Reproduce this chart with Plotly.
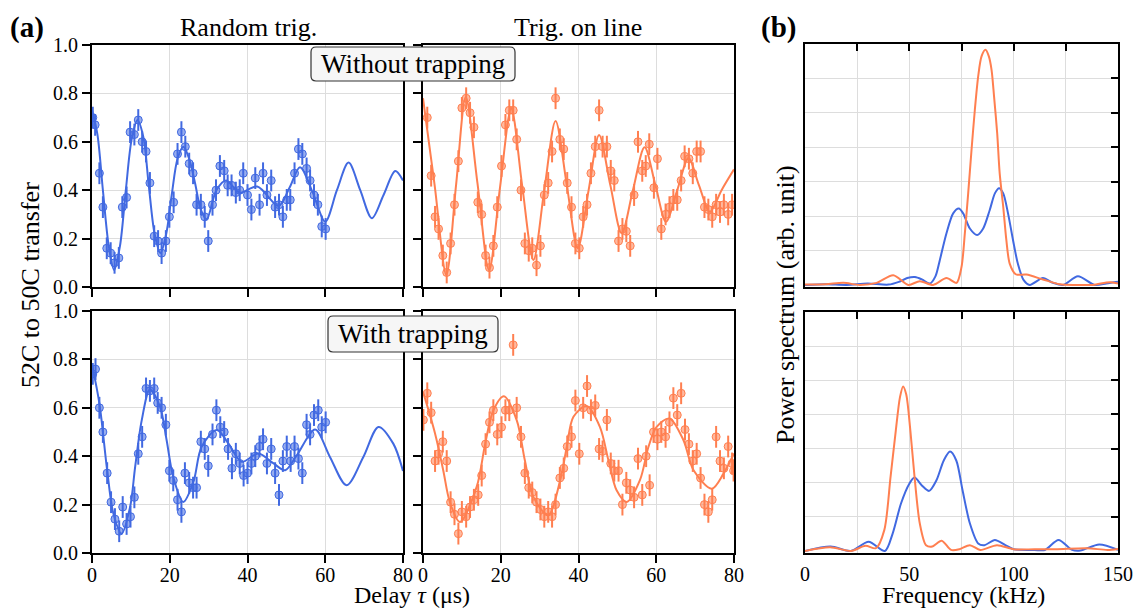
import plotly.graph_objects as go

# ---------------- data ----------------
# (a) top-left: random trigger, without trapping
t_rand_free = [0.2, 0.8, 1.9, 2.8, 3.8, 4.8, 5.8, 6.9, 7.8, 8.9, 9.8, 10.9, 11.9, 12.9, 13.9, 14.9, 16.0, 17.0, 17.9, 19.0,
               19.9, 21.0, 22.0, 23.0, 24.0, 25.0, 26.0, 26.9, 28.0, 29.0, 29.9, 31.0, 31.9, 32.9, 34.0, 34.9, 35.9, 37.0, 38.0, 38.9,
               40.0, 41.0, 42.0, 43.1, 44.0, 45.0, 46.1, 47.1, 48.1, 49.1, 50.1, 51.0, 52.1, 53.1, 54.1, 55.2, 56.1, 57.1, 58.1, 59.1, 60.1]
v_rand_free = [0.70, 0.67, 0.47, 0.33, 0.16, 0.14, 0.10, 0.12, 0.33, 0.37, 0.64, 0.63, 0.69, 0.60, 0.56, 0.43, 0.21, 0.19, 0.14, 0.19,
               0.29, 0.35, 0.55, 0.64, 0.58, 0.51, 0.47, 0.34, 0.34, 0.29, 0.19, 0.34, 0.40, 0.50, 0.48, 0.42, 0.42, 0.39, 0.40, 0.47,
               0.38, 0.32, 0.45, 0.34, 0.47, 0.38, 0.44, 0.33, 0.34, 0.29, 0.36, 0.36, 0.47, 0.57, 0.55, 0.49, 0.44, 0.38, 0.34, 0.25, 0.24]
fit_t_rand_free = [0, 1.4, 2.8, 4.3, 5.7, 7.2, 8.7, 10.2, 11.7, 13.2, 14.6, 16.1, 17.6, 19.1, 20.5, 22.0, 23.5, 25.0, 26.5, 28.0,
                   29.5, 32.0, 34.5, 38.0, 42.5, 48.0, 50.8, 53.5, 56.8, 60.0, 63.0, 66.0, 69.0, 72.0, 75.0, 78.0, 80.0]
fit_v_rand_free = [0.73, 0.63, 0.40, 0.17, 0.07, 0.17, 0.40, 0.61, 0.69, 0.62, 0.42, 0.22, 0.14, 0.22, 0.38, 0.53, 0.58, 0.53,
                   0.43, 0.32, 0.28, 0.40, 0.44, 0.39, 0.415, 0.335, 0.41, 0.495, 0.39, 0.27, 0.40, 0.514, 0.40, 0.284, 0.38,
                   0.479, 0.44]

# (a) top-right: trigger on line, without trapping
t_line_free = [1.1, 2.1, 3.1, 4.0, 5.1, 6.1, 7.1, 8.1, 9.1, 10.0, 11.1, 12.1, 13.1, 14.1, 15.1, 16.1, 17.1, 18.1, 19.1, 20.2,
               21.2, 22.2, 23.2, 24.1, 25.2, 26.2, 27.2, 28.1, 29.2, 30.2, 31.2, 32.2, 33.2, 34.1, 35.2, 36.2, 37.1, 38.2, 39.2, 40.2,
               41.2, 42.2, 43.2, 44.3, 45.3, 46.2, 47.3, 48.3, 49.2, 50.3, 51.3, 52.3, 53.3, 54.3, 55.3, 56.4, 57.3, 58.2, 59.4, 60.3,
               61.3, 62.4, 63.4, 64.4, 65.4, 66.4, 67.3, 68.4, 69.4, 70.4, 71.4, 72.4, 73.4, 74.4, 75.4, 76.4, 77.4, 78.5, 79.5]
v_line_free = [0.70, 0.46, 0.29, 0.24, 0.13, 0.06, 0.18, 0.34, 0.52, 0.74, 0.78, 0.72, 0.66, 0.35, 0.30, 0.13, 0.08, 0.17, 0.33, 0.50,
               0.67, 0.73, 0.73, 0.61, 0.40, 0.18, 0.15, 0.16, 0.09, 0.17, 0.38, 0.43, 0.56, 0.78, 0.61, 0.57, 0.43, 0.33, 0.18, 0.16,
               0.29, 0.34, 0.47, 0.58, 0.73, 0.58, 0.58, 0.48, 0.44, 0.19, 0.24, 0.23, 0.17, 0.38, 0.60, 0.48, 0.50, 0.59, 0.41, 0.53,
               0.24, 0.30, 0.33, 0.36, 0.36, 0.44, 0.54, 0.53, 0.47, 0.56, 0.56, 0.33, 0.32, 0.29, 0.34, 0.31, 0.34, 0.30, 0.34]
fit_t_line_free = [0, 3.0, 6.0, 8.5, 11.0, 14.0, 17.0, 19.8, 22.7, 25.5, 28.4, 31.2, 34.1, 37.0, 39.8, 42.6, 45.3, 48.2, 51.1,
                   54.0, 57.0, 59.8, 62.5, 65.4, 68.3, 71.0, 73.8, 76.8, 80.0]
fit_v_line_free = [0.78, 0.42, 0.05, 0.42, 0.785, 0.43, 0.07, 0.41, 0.738, 0.42, 0.112, 0.40, 0.686, 0.42, 0.16, 0.40, 0.628, 0.42,
                   0.222, 0.40, 0.577, 0.42, 0.27, 0.40, 0.532, 0.42, 0.311, 0.40, 0.486]

# (a) bottom-left: random trigger, with trapping
t_rand_trap = [0.2, 0.9, 1.9, 2.8, 3.9, 4.9, 5.9, 7.0, 7.9, 8.9, 9.9, 10.9, 11.9, 12.9, 13.9, 14.9, 16.0, 16.9, 17.9, 19.0,
               19.9, 20.9, 22.0, 23.0, 23.9, 25.0, 26.0, 26.9, 28.0, 29.0, 29.9, 31.0, 32.0, 33.0, 34.0, 35.0, 36.0, 37.0, 38.0, 39.0,
               40.0, 41.0, 42.0, 43.1, 44.0, 45.0, 46.1, 47.1, 48.1, 49.1, 50.1, 51.1, 52.1, 53.1, 54.1, 55.2, 56.1, 57.1, 58.2, 59.1, 60.1]
v_rand_trap = [0.74, 0.76, 0.60, 0.50, 0.33, 0.21, 0.14, 0.09, 0.19, 0.12, 0.15, 0.23, 0.41, 0.48, 0.68, 0.67, 0.68, 0.62, 0.60, 0.53,
               0.34, 0.30, 0.22, 0.17, 0.33, 0.29, 0.27, 0.27, 0.46, 0.43, 0.36, 0.49, 0.59, 0.52, 0.50, 0.43, 0.35, 0.41, 0.37, 0.32,
               0.33, 0.37, 0.40, 0.44, 0.47, 0.37, 0.43, 0.33, 0.24, 0.38, 0.44, 0.38, 0.44, 0.39, 0.33, 0.53, 0.49, 0.57, 0.59, 0.52, 0.54]
fit_t_rand_trap = [0, 1.9, 3.9, 5.5, 7.6, 9.8, 11.1, 12.8, 14.9, 17.5, 19.2, 20.9, 23.5, 26.1, 28.2, 32.1, 35.1, 38.5, 42.8,
                   46.7, 49.7, 52.7, 57.4, 61.2, 65.5, 69.8, 73.7, 77.5, 80.0]
fit_v_rand_trap = [0.777, 0.618, 0.342, 0.163, 0.08, 0.19, 0.356, 0.549, 0.676, 0.604, 0.466, 0.314, 0.211, 0.294, 0.439, 0.508,
                   0.452, 0.377, 0.411, 0.37, 0.342, 0.404, 0.51, 0.397, 0.28, 0.397, 0.521, 0.452, 0.339]

# (a) bottom-right: trigger on line, with trapping
t_line_trap = [0.1, 1.1, 2.1, 3.1, 4.0, 5.1, 6.1, 7.1, 8.1, 9.1, 10.0, 11.1, 12.1, 13.1, 14.2, 15.1, 16.1, 17.1, 18.1, 19.1,
               20.2, 21.2, 22.2, 23.2, 24.1, 25.2, 26.2, 27.2, 28.1, 29.2, 30.2, 31.2, 32.2, 33.2, 34.1, 35.2, 36.2, 37.1, 38.2, 39.2,
               40.2, 41.2, 42.2, 43.2, 44.3, 45.3, 46.2, 47.3, 48.3, 49.2, 50.3, 51.3, 52.3, 53.3, 54.3, 55.3, 56.4, 57.4, 58.3, 59.3,
               60.3, 61.3, 62.4, 63.4, 64.4, 65.4, 66.4, 67.4, 68.4, 69.4, 70.4, 71.4, 72.4, 73.4, 74.4, 75.4, 76.4, 77.4, 78.5, 79.5, 79.9]
v_line_trap = [0.55, 0.66, 0.58, 0.38, 0.41, 0.46, 0.38, 0.21, 0.16, 0.08, 0.17, 0.15, 0.19, 0.22, 0.24, 0.32, 0.45, 0.54, 0.59, 0.49,
               0.52, 0.59, 0.59, 0.86, 0.60, 0.48, 0.33, 0.27, 0.25, 0.21, 0.18, 0.15, 0.17, 0.15, 0.20, 0.31, 0.35, 0.44, 0.48, 0.63,
               0.41, 0.60, 0.69, 0.59, 0.61, 0.43, 0.42, 0.55, 0.37, 0.34, 0.34, 0.20, 0.29, 0.26, 0.23, 0.39, 0.24, 0.40, 0.28, 0.50,
               0.47, 0.50, 0.48, 0.54, 0.64, 0.57, 0.66, 0.51, 0.45, 0.38, 0.41, 0.31, 0.20, 0.17, 0.22, 0.48, 0.38, 0.35, 0.44, 0.37, 0.34]
fit_t_line_trap = [0, 3.1, 5.2, 6.9, 9.5, 13.8, 16.0, 18.1, 20.8, 24.1, 26.2, 28.4, 32.2, 35.2, 37.0, 38.7, 42.1, 45.5, 47.7,
                   49.8, 52.4, 55.8, 58.0, 60.1, 63.4, 67.0, 69.6, 74.3, 77.3, 80.0]
fit_v_line_trap = [0.666, 0.494, 0.342, 0.211, 0.128, 0.273, 0.452, 0.59, 0.648, 0.549, 0.383, 0.232, 0.156, 0.294, 0.439, 0.563,
                   0.607, 0.521, 0.383, 0.259, 0.211, 0.301, 0.439, 0.521, 0.556, 0.466, 0.342, 0.266, 0.328, 0.411]

err_rand = 0.045
err_line = 0.045

# (b) power spectra
f_rand_free = [0, 10, 20, 30, 40, 45, 49, 52.7, 56, 59.8, 62.5, 64.6, 67.8, 71.0, 73.7, 75.8, 79.0, 82.5, 85.4, 88.5, 91.0, 93.0,
               95.0, 97.3, 99.7, 102.0, 104.8, 107.7, 114, 118.9, 123.7, 130.8, 138.8, 144.4, 150]
p_rand_free = [0.0, 0.02, 0.0, 0.04, 0.01, 0.09, 0.20, 0.23, 0.16, 0.04, 0.25, 0.72, 1.5, 2.08, 2.22, 2.08, 1.64, 1.45, 1.64, 2.17,
               2.66, 2.81, 2.66, 2.08, 1.3, 0.62, 0.14, 0.0, 0.2, 0.06, 0.0, 0.25, 0.0, 0.04, 0.09]
f_line_free = [0, 10, 18.4, 26.3, 34.3, 42.3, 49.5, 55, 61.4, 67.8, 72.6, 75.0, 76.6, 78.2, 79.8, 81.4, 83.0, 84.6, 86.5, 88.1,
               89.4, 90.6, 92.1, 93.3, 95.0, 96.5, 98.1, 101, 106.1, 114, 122, 130, 138, 146, 150]
p_line_free = [0.01, 0.02, 0.06, 0.0, 0.06, 0.28, 0.0, 0.11, 0.0, 0.2, 0.06, 0.52, 1.5, 2.66, 3.92, 5.09, 6.06, 6.64, 6.83, 6.64,
               6.25, 5.48, 4.41, 3.24, 2.27, 1.3, 0.62, 0.31, 0.3, 0.16, 0.02, 0.0, 0.0, 0.08, 0.04]
f_rand_trap = [0, 12.3, 22, 30.5, 38.3, 42, 46, 50, 52.5, 56, 59.5, 63, 66.5, 69.5, 72.5, 75.5, 79, 83, 86, 91, 96, 100, 110,
               115, 121.5, 128, 132, 141, 150]
p_rand_trap = [0.0, 0.13, 0.0, 0.27, 0.0, 0.51, 1.39, 1.97, 2.15, 1.92, 1.76, 2.07, 2.65, 2.91, 2.65, 1.78, 0.81, 0.22, 0.17, 0.32,
               0.17, 0.05, 0.03, 0.03, 0.32, 0.03, 0.01, 0.19, 0.03]
f_line_trap = [0, 12, 22, 29, 34, 38, 41, 43.5, 45.5, 47, 48.5, 50.5, 52.5, 55, 58, 61, 65.5, 70, 74, 79, 84, 92, 100, 110,
               120, 135, 145, 150]
p_line_trap = [0.0, 0.11, 0.0, 0.15, 0.08, 0.61, 2.17, 3.52, 4.5, 4.82, 4.59, 3.52, 2.17, 0.81, 0.17, 0.13, 0.3, 0.03, 0.05, 0.17,
               0.03, 0.17, 0.05, 0.05, 0.05, 0.08, 0.03, 0.06]

delay_ticks = [0, 20, 40, 60, 80]
transfer_ticks = [0.0, 0.2, 0.4, 0.6, 0.8, 1.0]
freq_ticks = [0, 25, 50, 75, 100, 125, 150]
freq_labels = ['0', '', '50', '', '100', '', '150']
power_ticks = [1, 2, 3, 4, 5, 6]

# ---------------- styling ----------------
W, H = 1135, 608


def px(x):
    return x / W


def py(y):
    return 1 - y / H


BLUE = '#4169E1'
ORANGE = '#FF7F50'
BLUE_FILL = 'rgba(65,105,225,0.55)'
ORANGE_FILL = 'rgba(255,127,80,0.55)'
FONT = 'Liberation Serif'
GRID = '#dddddd'

fig = go.Figure()


def add_panel(xa, ya, t, v, err, ft, fv, color, fill):
    fig.add_trace(go.Scatter(x=ft, y=fv, mode='lines', xaxis=xa, yaxis=ya, hoverinfo='skip',
                             line=dict(color=color, width=2, shape='spline', smoothing=0.9)))
    fig.add_trace(go.Scatter(x=t, y=v, mode='markers', xaxis=xa, yaxis=ya,
                             marker=dict(size=8, color=fill, line=dict(color=color, width=1)),
                             error_y=dict(type='constant', value=err, color=color, thickness=2, width=0)))


add_panel('x', 'y', t_rand_free, v_rand_free, err_rand, fit_t_rand_free, fit_v_rand_free, BLUE, BLUE_FILL)
add_panel('x2', 'y2', t_line_free, v_line_free, err_line, fit_t_line_free, fit_v_line_free, ORANGE, ORANGE_FILL)
add_panel('x3', 'y3', t_rand_trap, v_rand_trap, err_rand, fit_t_rand_trap, fit_v_rand_trap, BLUE, BLUE_FILL)
add_panel('x4', 'y4', t_line_trap, v_line_trap, err_line, fit_t_line_trap, fit_v_line_trap, ORANGE, ORANGE_FILL)

for f, p, c, xa, ya in [(f_rand_free, p_rand_free, BLUE, 'x5', 'y5'),
                        (f_line_free, p_line_free, ORANGE, 'x5', 'y5'),
                        (f_rand_trap, p_rand_trap, BLUE, 'x6', 'y6'),
                        (f_line_trap, p_line_trap, ORANGE, 'x6', 'y6')]:
    fig.add_trace(go.Scatter(x=f, y=p, mode='lines', xaxis=xa, yaxis=ya,
                             line=dict(color=c, width=2, shape='spline', smoothing=0.8)))

# empty traces so overlay tick axes exist
fig.add_trace(go.Scatter(x=[], y=[], xaxis='x7', yaxis='y7'))
fig.add_trace(go.Scatter(x=[], y=[], xaxis='x8', yaxis='y8'))

tickfont = dict(family=FONT, size=20, color='black')
base = dict(showline=True, linecolor='black', linewidth=2, mirror=True, ticks='outside', ticklen=8,
            tickwidth=1.5, tickcolor='black', showgrid=True, gridcolor=GRID, gridwidth=1,
            zeroline=False, tickfont=tickfont, fixedrange=True, automargin=False)

xl = [px(92), px(403)]
xr = [px(423), px(734)]
yt = [py(287), py(45)]
yb = [py(553), py(311)]
xb = [px(805), px(1118)]
ybt = [py(287), py(44)]
ybb = [py(553), py(312)]

tt = ['%.1f' % v for v in transfer_ticks]

overlay = dict(ticks='inside', ticklen=7, tickwidth=1.5, tickcolor='black', showticklabels=False,
               showgrid=False, showline=False, zeroline=False, fixedrange=True, automargin=False)

layout_axes = dict(
    xaxis=dict(base, domain=xl, range=[0, 80], tickvals=delay_ticks, showticklabels=False, anchor='y'),
    xaxis2=dict(base, domain=xr, range=[0, 80], tickvals=delay_ticks, showticklabels=False, anchor='y2'),
    xaxis3=dict(base, domain=xl, range=[0, 80], tickvals=delay_ticks, anchor='y3', ticklabelstandoff=-5),
    xaxis4=dict(base, domain=xr, range=[0, 80], tickvals=delay_ticks, anchor='y4', ticklabelstandoff=-5),
    yaxis=dict(base, domain=yt, range=[0, 1], tickvals=transfer_ticks, ticktext=tt, anchor='x'),
    yaxis2=dict(base, domain=yt, range=[0, 1], tickvals=transfer_ticks, showticklabels=False, anchor='x2'),
    yaxis3=dict(base, domain=yb, range=[0, 1], tickvals=transfer_ticks, ticktext=tt, anchor='x3'),
    yaxis4=dict(base, domain=yb, range=[0, 1], tickvals=transfer_ticks, showticklabels=False, anchor='x4'),
    xaxis5=dict(base, domain=xb, range=[0, 150], tickvals=freq_ticks, ticks='', showticklabels=False, anchor='y5'),
    yaxis5=dict(base, domain=ybt, range=[-0.06, 7.0], tickvals=power_ticks, ticks='', showticklabels=False, anchor='x5'),
    xaxis6=dict(base, domain=xb, range=[0, 150], tickvals=freq_ticks, ticktext=freq_labels, ticks='', anchor='y6',
                ticklabelstandoff=2),
    yaxis6=dict(base, domain=ybb, range=[-0.06, 7.0], tickvals=power_ticks, ticks='', showticklabels=False, anchor='x6'),
    xaxis7=dict(overlay, overlaying='x5', anchor='y5', side='top', range=[0, 150], tickvals=freq_ticks),
    yaxis7=dict(overlay, overlaying='y5', anchor='x5', side='right', range=[-0.06, 7.0], tickvals=power_ticks),
    xaxis8=dict(overlay, overlaying='x6', anchor='y6', side='top', range=[0, 150], tickvals=freq_ticks),
    yaxis8=dict(overlay, overlaying='y6', anchor='x6', side='right', range=[-0.06, 7.0], tickvals=power_ticks),
)


def rounded_box(x0, y0, x1, y1, r=5):
    rx, ry = r / W, r / H
    X0, X1 = px(x0), px(x1)
    Y0, Y1 = py(y1), py(y0)  # bottom, top in paper coords
    path = (f'M {X0 + rx},{Y0} L {X1 - rx},{Y0} Q {X1},{Y0} {X1},{Y0 + ry} '
            f'L {X1},{Y1 - ry} Q {X1},{Y1} {X1 - rx},{Y1} '
            f'L {X0 + rx},{Y1} Q {X0},{Y1} {X0},{Y1 - ry} '
            f'L {X0},{Y0 + ry} Q {X0},{Y0} {X0 + rx},{Y0} Z')
    return dict(type='path', xref='paper', yref='paper', path=path, fillcolor='#f6f6f6',
                line=dict(color='#333333', width=1.2), layer='above')


shapes = [rounded_box(311, 47, 515, 81), rounded_box(328, 316, 498, 352)]


def ann(text, x, y, size=26, angle=0, bold=False):
    if bold:
        text = '<b>' + text + '</b>'
    return dict(text=text, x=px(x), y=py(y), xref='paper', yref='paper', showarrow=False,
                xanchor='center', yanchor='middle', textangle=angle,
                font=dict(family=FONT, size=size, color='black'))


annotations = [
    ann('(a)', 27, 27, size=29, bold=True),
    ann('(b)', 778, 27, size=29, bold=True),
    ann('Random trig.', 248, 28),
    ann('Trig. on line', 578, 28),
    ann('Without trapping', 413, 64, size=27),
    ann('With trapping', 413, 334, size=27),
    ann('52C to 50C transfer', 30, 285, angle=-90),
    ann('Delay <i>τ</i> (μs)', 412, 595, size=24),
    ann('Power spectrum (arb. unit)', 785, 305, angle=-90),
    ann('Frequency (kHz)', 963, 595, size=24),
]

fig.update_layout(
    template='none',
    width=W, height=H, margin=dict(l=0, r=0, t=0, b=0, pad=0),
    paper_bgcolor='white', plot_bgcolor='white', showlegend=False,
    shapes=shapes, annotations=annotations,
    font=dict(family=FONT, color='black'),
    **layout_axes,
)

fig.write_html('out.html', config={'displayModeBar': False},
               post_script="document.body.style.margin='0';document.body.style.padding='0';"
                           "document.body.style.overflow='hidden';")
